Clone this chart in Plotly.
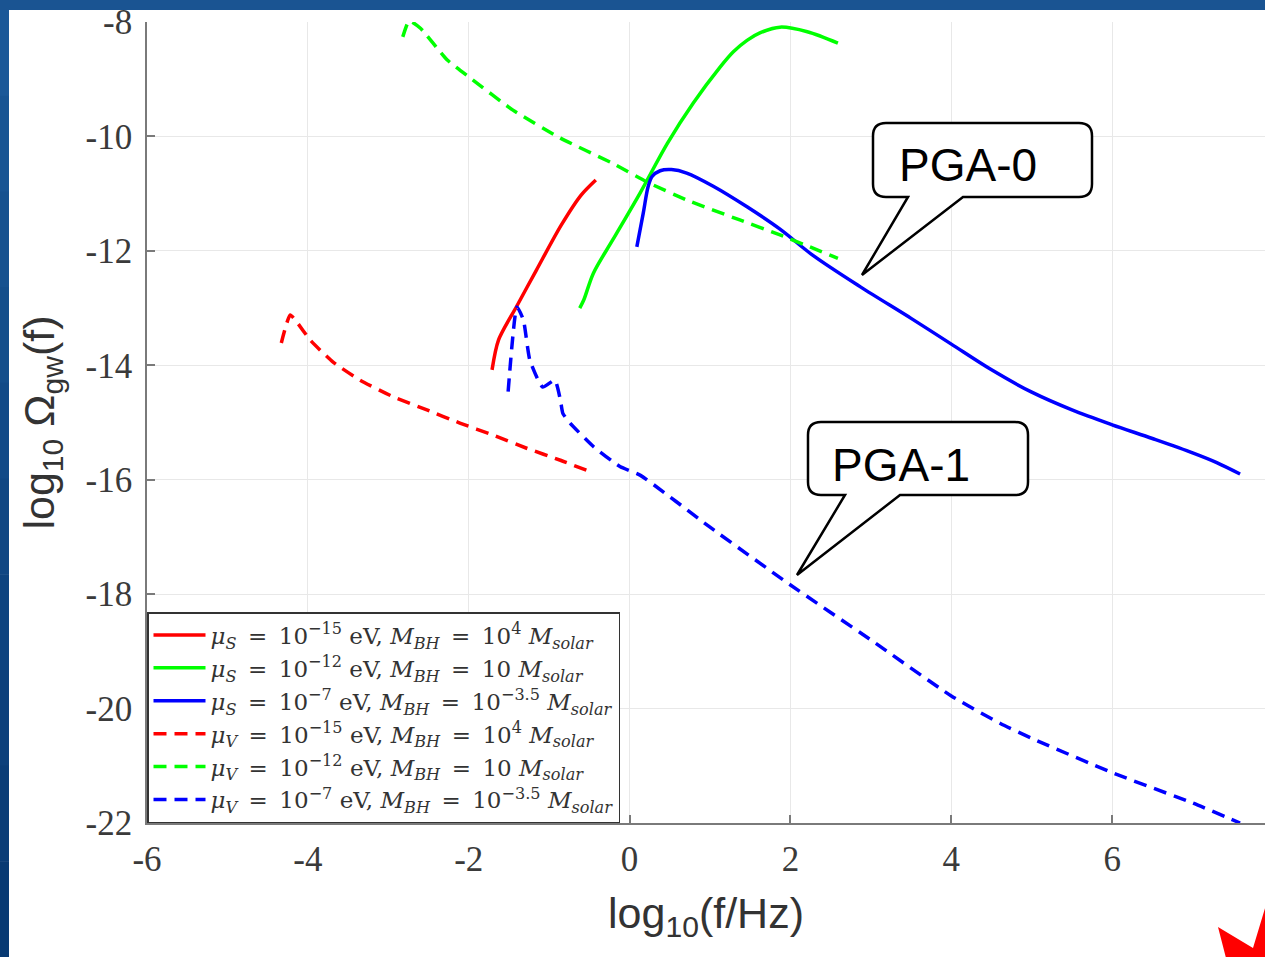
import plotly.graph_objects as go

# ---------------- data (log10 f, log10 Omega_gw) ----------------
red_solid_x = [-1.71, -1.63, -1.40, -1.16, -0.85, -0.60, -0.42]
red_solid_y = [-14.08, -13.56, -12.96, -12.34, -11.55, -11.02, -10.76]

green_solid_x = [-0.62, -0.57, -0.45, -0.21, 0.13, 0.47, 0.79, 1.13, 1.29, 1.46, 1.62, 1.87, 2.21, 2.59]
green_solid_y = [-13.0, -12.86, -12.39, -11.81, -10.99, -10.12, -9.42, -8.78, -8.52, -8.32, -8.19, -8.09, -8.17, -8.37]

blue_solid_x = [0.09, 0.17, 0.23, 0.28, 0.38, 0.52, 0.71, 1.04, 1.46, 1.87, 2.28, 2.87,
                3.5, 4.0, 4.5, 5.0, 5.5, 6.0, 6.5, 7.0, 7.3, 7.59]
blue_solid_y = [-11.93, -11.34, -10.88, -10.70, -10.60, -10.58, -10.64, -10.87, -11.23, -11.62, -12.08, -12.63,
                -13.18, -13.63, -14.08, -14.47, -14.78, -15.04, -15.28, -15.53, -15.70, -15.90]

red_dash_x = [-4.33, -4.22, -4.14, -3.97, -3.69, -3.35, -2.94, -2.52, -2.11, -1.70, -1.28, -0.86, -0.49]
red_dash_y = [-13.61, -13.12, -13.24, -13.56, -13.94, -14.26, -14.55, -14.78, -15.01, -15.22, -15.45, -15.66, -15.86]

green_dash_x = [-2.82, -2.74, -2.60, -2.27, -1.98, -1.45, -0.86, -0.21, 0.22, 0.71, 1.37, 1.87, 2.24, 2.59]
green_dash_y = [-8.26, -7.98, -8.11, -8.66, -8.98, -9.54, -10.03, -10.47, -10.80, -11.11, -11.46, -11.72, -11.93, -12.13]

blue_dash_x = [-1.51, -1.40, -1.32, -1.24, -1.08, -0.93, -0.86, -0.83, -0.74, -0.45, -0.12, 0.13,
               1.0, 2.0, 3.0, 4.0, 4.61, 5.0, 6.0, 7.0, 7.59]
blue_dash_y = [-14.46, -12.98, -13.21, -13.91, -14.38, -14.26, -14.61, -14.84, -15.01, -15.42, -15.77, -15.92,
               -16.83, -17.84, -18.80, -19.78, -20.26, -20.52, -21.12, -21.65, -22.0]

EQ = "\u2002=\u2002"
legend_names = [
    "<i>μ<sub>S</sub></i>" + EQ + "10<sup>−15</sup> eV, <i>M<sub>BH</sub></i>" + EQ + "10<sup>4</sup> <i>M<sub>solar</sub></i>",
    "<i>μ<sub>S</sub></i>" + EQ + "10<sup>−12</sup> eV, <i>M<sub>BH</sub></i>" + EQ + "10 <i>M<sub>solar</sub></i>",
    "<i>μ<sub>S</sub></i>" + EQ + "10<sup>−7</sup> eV, <i>M<sub>BH</sub></i>" + EQ + "10<sup>−3.5</sup> <i>M<sub>solar</sub></i>",
    "<i>μ<sub>V</sub></i>" + EQ + "10<sup>−15</sup> eV, <i>M<sub>BH</sub></i>" + EQ + "10<sup>4</sup> <i>M<sub>solar</sub></i>",
    "<i>μ<sub>V</sub></i>" + EQ + "10<sup>−12</sup> eV, <i>M<sub>BH</sub></i>" + EQ + "10 <i>M<sub>solar</sub></i>",
    "<i>μ<sub>V</sub></i>" + EQ + "10<sup>−7</sup> eV, <i>M<sub>BH</sub></i>" + EQ + "10<sup>−3.5</sup> <i>M<sub>solar</sub></i>",
]

x_tickvals = [-6, -4, -2, 0, 2, 4, 6]
x_ticktext = ["-6", "-4", "-2", "0", "2", "4", "6"]
y_tickvals = [-22, -20, -18, -16, -14, -12, -10, -8]
y_ticktext = ["-22", "-20", "-18", "-16", "-14", "-12", "-10", "-8"]

callout_labels = ["PGA-0", "PGA-1"]

# ---------------- layout geometry (pixels) ----------------
W, H = 1265, 957
L, R, T, B = 147, 1265, 22, 823


def pxx(p):
    return (p - L) / (R - L)


def pxy(p):
    return (B - p) / (B - T)


fig = go.Figure()

series = [
    (red_solid_x, red_solid_y, "#ff0000", "solid", 0.8),
    (green_solid_x, green_solid_y, "#00ff00", "solid", 0.9),
    (blue_solid_x, blue_solid_y, "#0000ff", "solid", 0.9),
    (red_dash_x, red_dash_y, "#ff0000", "13px,8px", 0.5),
    (green_dash_x, green_dash_y, "#00ff00", "13px,8px", 0.5),
    (blue_dash_x, blue_dash_y, "#0000ff", "13px,8px", 0.5),
]
for (xs, ys, col, dash, sm), name in zip(series, legend_names):
    fig.add_trace(go.Scatter(x=xs, y=ys, mode="lines", name=name,
                             line=dict(color=col, width=3.5, dash=dash, shape="spline", smoothing=sm)))

shapes = []
# slide frame (blue gradient strips)
n = 10
top_c = (27, 88, 152)
bot_c = (8, 58, 115)
for i in range(n):
    a = H * i / n
    b = H * (i + 1) / n
    t = i / (n - 1)
    c = tuple(int(top_c[k] + (bot_c[k] - top_c[k]) * t) for k in range(3))
    shapes.append(dict(type="rect", xref="paper", yref="paper",
                       x0=pxx(0), x1=pxx(9), y0=pxy(b + 0.5), y1=pxy(a),
                       fillcolor="rgb(%d,%d,%d)" % c, line=dict(width=0), layer="above"))
shapes.append(dict(type="rect", xref="paper", yref="paper",
                   x0=pxx(0), x1=pxx(W), y0=pxy(10), y1=pxy(0),
                   fillcolor="rgb(26,84,146)", line=dict(width=0), layer="above"))

# red decoration bottom right
red_pts = [(1218, 927), (1253, 948), (1266, 905), (1266, 958), (1226, 958)]
path = "M " + " L ".join("%f,%f" % (pxx(a), pxy(b)) for a, b in red_pts) + " Z"
shapes.append(dict(type="path", xref="paper", yref="paper", path=path,
                   fillcolor="#ff0000", line=dict(width=0), layer="above"))


def callout(l, t, r, b, bx0, bx1, tipx, tipy, rad=13):
    s = "M %f,%f" % (pxx(l + rad), pxy(t))
    s += " L %f,%f" % (pxx(r - rad), pxy(t))
    s += " Q %f,%f %f,%f" % (pxx(r), pxy(t), pxx(r), pxy(t + rad))
    s += " L %f,%f" % (pxx(r), pxy(b - rad))
    s += " Q %f,%f %f,%f" % (pxx(r), pxy(b), pxx(r - rad), pxy(b))
    s += " L %f,%f" % (pxx(bx1), pxy(b))
    s += " L %f,%f" % (pxx(tipx), pxy(tipy))
    s += " L %f,%f" % (pxx(bx0), pxy(b))
    s += " L %f,%f" % (pxx(l + rad), pxy(b))
    s += " Q %f,%f %f,%f" % (pxx(l), pxy(b), pxx(l), pxy(b - rad))
    s += " L %f,%f" % (pxx(l), pxy(t + rad))
    s += " Q %f,%f %f,%f" % (pxx(l), pxy(t), pxx(l + rad), pxy(t))
    s += " Z"
    return dict(type="path", xref="paper", yref="paper", path=s,
                fillcolor="white", line=dict(color="black", width=2.5), layer="above")


shapes.append(callout(873, 123, 1092, 197, 908, 963, 862, 275))
shapes.append(callout(808, 422, 1028, 495, 845, 900, 797, 575))

annotations = [
    dict(xref="paper", yref="paper", x=pxx(968), y=pxy(165), text=callout_labels[0],
         xanchor="center", yanchor="middle",
         showarrow=False, font=dict(family="Liberation Sans, Arial", size=46, color="black")),
    dict(xref="paper", yref="paper", x=pxx(901), y=pxy(465), text=callout_labels[1],
         xanchor="center", yanchor="middle",
         showarrow=False, font=dict(family="Liberation Sans, Arial", size=46, color="black")),
]

tickfont = dict(family="Liberation Serif, DejaVu Serif, serif", size=35, color="#3a3a3a")
titlefont = dict(family="Liberation Sans, Arial", size=43, color="#333333")

fig.update_layout(
    width=W, height=H,
    margin=dict(l=L, r=W - R, t=T, b=H - B, autoexpand=False),
    paper_bgcolor="white", plot_bgcolor="white",
    showlegend=True,
    legend=dict(x=0, y=0, xanchor="left", yanchor="bottom",
                bgcolor="white", bordercolor="#333333", borderwidth=1.5,
                font=dict(family="DejaVu Serif, Liberation Serif, serif", size=23, color="#333333"),
                tracegroupgap=0, itemwidth=52),
    shapes=shapes,
    annotations=annotations,
    xaxis=dict(range=[-6, 7.9], tickvals=x_tickvals, ticktext=x_ticktext,
               showgrid=True, gridcolor="#e8e8e8", gridwidth=1, zeroline=False,
               showline=True, linecolor="#7a7a7a", linewidth=1.5,
               ticks="inside", ticklen=8, tickcolor="#7a7a7a", tickwidth=1.5,
               tickfont=tickfont, ticklabelstandoff=4,
               title=dict(text="log<sub>10</sub>(f/Hz)", font=titlefont, standoff=20)),
    yaxis=dict(range=[-22, -8], tickvals=y_tickvals, ticktext=y_ticktext,
               showgrid=True, gridcolor="#e8e8e8", gridwidth=1, zeroline=False,
               showline=True, linecolor="#7a7a7a", linewidth=1.5,
               ticks="inside", ticklen=8, tickcolor="#7a7a7a", tickwidth=1.5,
               tickfont=tickfont, ticklabelstandoff=6,
               title=dict(text="log<sub>10</sub> Ω<sub>gw</sub>(f)", font=titlefont, standoff=18)),
)

fig.write_html("out.html")
